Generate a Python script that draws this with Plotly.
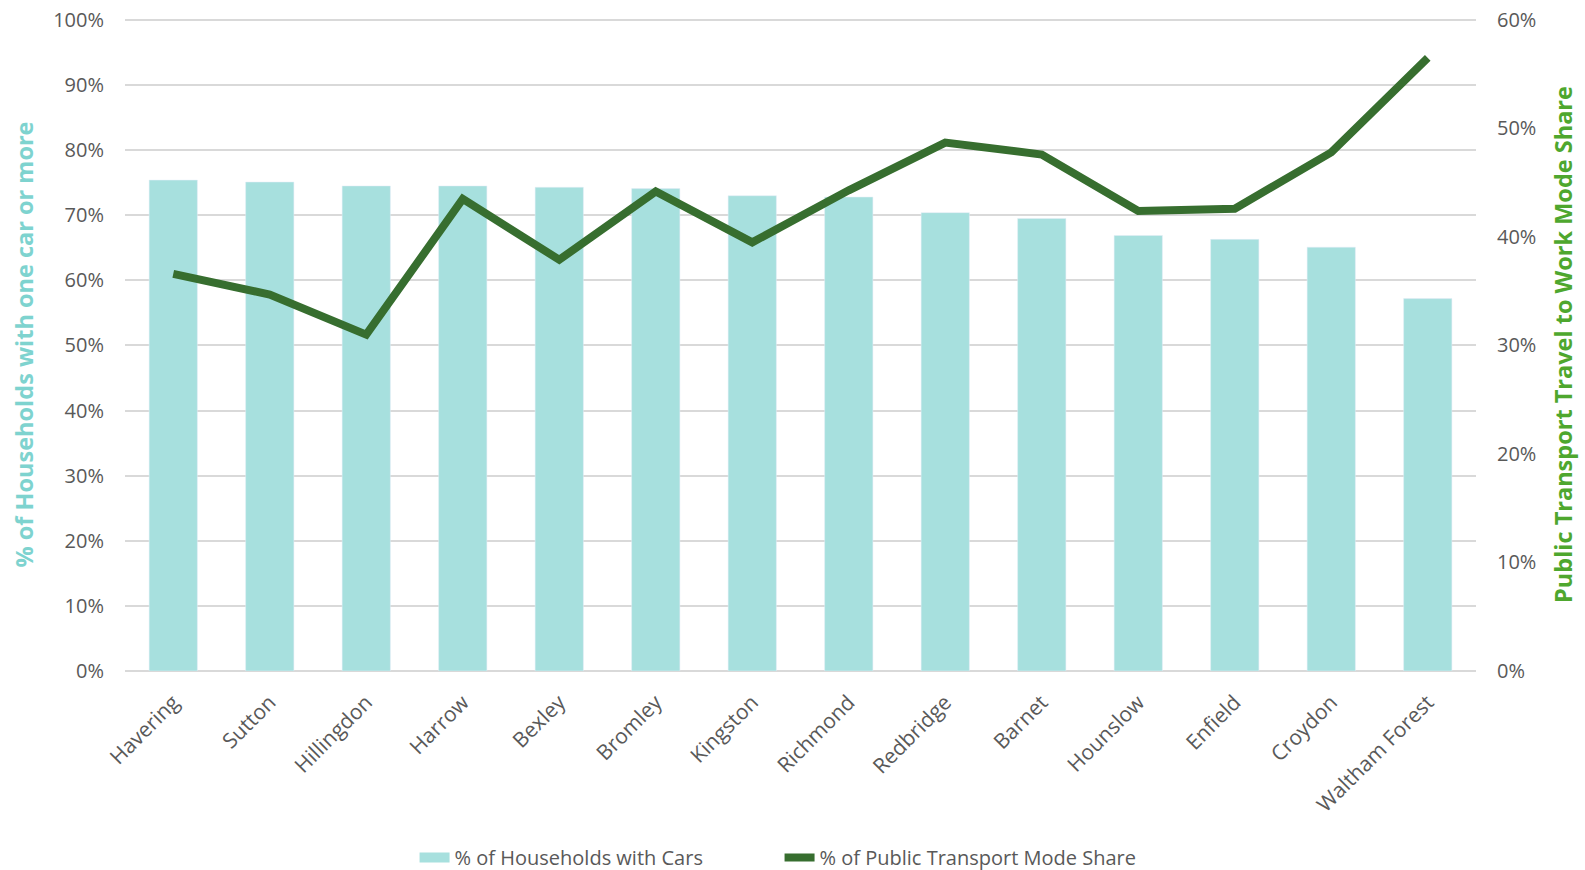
import plotly.graph_objects as go

boroughs = ["Havering", "Sutton", "Hillingdon", "Harrow", "Bexley", "Bromley", "Kingston",
            "Richmond", "Redbridge", "Barnet", "Hounslow", "Enfield", "Croydon", "Waltham Forest"]
households_with_cars = [75.4, 75.1, 74.5, 74.5, 74.3, 74.1, 73.0, 72.8, 70.4, 69.5, 66.9, 66.3, 65.1, 57.2]
public_transport_share = [36.6, 34.7, 31.0, 43.5, 37.9, 44.2, 39.5, 44.3, 48.7, 47.6, 42.4, 42.6, 47.8, 56.5]

FONT = "Open Sans"
GREY = "#595959"
BAR_COLOR = "#A7E0DE"
LINE_COLOR = "#376E2F"

fig = go.Figure()
fig.add_trace(go.Bar(
    x=boroughs, y=[v / 100 for v in households_with_cars],
    name="% of Households with Cars", marker_color=BAR_COLOR, yaxis="y",
    showlegend=False,
))
# legend entry drawn as a wide swatch, like the reference
fig.add_trace(go.Scatter(
    x=[None], y=[None], mode="lines", name="% of Households with Cars",
    line=dict(color=BAR_COLOR, width=15), yaxis="y", hoverinfo="skip",
))
fig.add_trace(go.Scatter(
    x=boroughs, y=[v / 100 for v in public_transport_share],
    name="% of Public Transport Mode Share", mode="lines",
    line=dict(color=LINE_COLOR, width=8), yaxis="y2",
))

fig.update_layout(
    width=1585, height=870,
    margin=dict(l=125, r=109, t=18, b=199, autoexpand=False),
    paper_bgcolor="white", plot_bgcolor="white",
    font=dict(family=FONT, size=20, color=GREY),
    bargap=0.5,
    showlegend=True,
    legend=dict(orientation="h", x=0.4845, xanchor="center", y=-0.2857, yanchor="middle",
                font=dict(size=20, color=GREY), traceorder="normal",
                tracegroupgap=0, itemwidth=30, entrywidth=320),
    xaxis=dict(tickangle=-45, showgrid=False, showline=False, ticks="",
               tickfont=dict(size=21, color=GREY), ticklabelstandoff=14, automargin=False),
    yaxis=dict(range=[0, 1.003], dtick=0.1, tickformat=".0%", showgrid=True,
               gridcolor="#D9D9D9", gridwidth=1.5, zeroline=True, zerolinecolor="#D9D9D9",
               zerolinewidth=2, ticks="", ticklabelstandoff=20, automargin=False,
               tickfont=dict(size=20, color=GREY),
               title=dict(text="<b>% of Households with one car or more</b>",
                          font=dict(size=23.5, color="#7ED3CF"), standoff=12)),
    yaxis2=dict(range=[0, 0.6018], dtick=0.1, tickformat=".0%", overlaying="y", side="right",
                showgrid=False, zeroline=False, ticks="", ticklabelstandoff=20,
                automargin=False, tickfont=dict(size=20, color=GREY),
                title=dict(text="<b>Public Transport Travel to Work Mode Share</b>",
                           font=dict(size=23.5, color="#4EA72E"), standoff=20)),
)

fig.write_html("out.html",
               config={"displayModeBar": False},
               post_script="document.body.style.margin='0';document.body.style.overflow='hidden';")
